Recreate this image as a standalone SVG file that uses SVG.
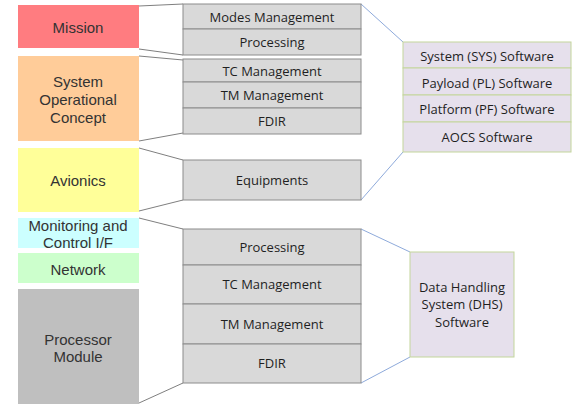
<svg xmlns="http://www.w3.org/2000/svg" width="572" height="404" viewBox="0 0 572 404">
<style>
.lt{font-family:"Liberation Sans",Arial,sans-serif;font-size:15px;fill:#333;text-anchor:middle;dominant-baseline:central}
.mt{font-family:"Open Sans","Noto Sans",sans-serif;font-size:13px;fill:#1f1f1f;text-anchor:middle;dominant-baseline:central}
.mid{fill:#D9D9D9;stroke:#8C8C8C;stroke-width:1}
.sw{fill:#E6E0EC;stroke:#C3D69B;stroke-width:1}
.gl{stroke:#7F7F7F;stroke-width:1;fill:none}
.bl{stroke:#8EAADB;stroke-width:1;fill:none}
</style>
<rect width="572" height="404" fill="#fff"/>
<g id="mission"><rect x="18" y="5" width="121" height="43" fill="#FF7C80"/><text class="lt" x="78" y="27">Mission</text></g>
<g id="soc"><rect x="18" y="56" width="121" height="85" fill="#FFCC99"/><text class="lt" x="78" y="81">System</text><text class="lt" x="78" y="99">Operational</text><text class="lt" x="78" y="117">Concept</text></g>
<g id="avionics"><rect x="18" y="148" width="121" height="64" fill="#FFFF99"/><text class="lt" x="78" y="180">Avionics</text></g>
<g id="monitoring"><rect x="18" y="218" width="121" height="30" fill="#CCFFFF"/><text class="lt" x="78" y="225">Monitoring and</text><text class="lt" x="78" y="242">Control I/F</text></g>
<g id="network"><rect x="18" y="253" width="121" height="30" fill="#CCFFCC"/><text class="lt" x="78" y="269">Network</text></g>
<g id="processor"><rect x="18" y="289" width="121" height="115" fill="#BFBFBF"/><text class="lt" x="78" y="339">Processor</text><text class="lt" x="78" y="356">Module</text></g>

<g id="connectors">
<path class="gl" d="M139 6 L183 4 M139 49 L183 55"/>
<path class="gl" d="M139 56 L183 60 M139 141 L183 133"/>
<path class="gl" d="M139 148 L183 160 M139 211 L183 200"/>
<path class="gl" d="M139 218 L183 229 M139 403 L183 383"/>
<path class="bl" d="M361 4 L403 42 M361 200 L403 152"/>
<path class="bl" d="M361 229 L410 252 M361 383 L410 357"/>
</g>

<g id="mid-mission">
<rect class="mid" x="183" y="4" width="178" height="25"/><text class="mt" x="272" y="17">Modes Management</text>
<rect class="mid" x="183" y="29" width="178" height="26"/><text class="mt" x="272" y="42">Processing</text>
</g>
<g id="mid-soc">
<rect class="mid" x="183" y="59" width="178" height="23"/><text class="mt" x="272" y="71">TC Management</text>
<rect class="mid" x="183" y="82" width="178" height="26"/><text class="mt" x="272" y="95">TM Management</text>
<rect class="mid" x="183" y="108" width="178" height="26"/><text class="mt" x="272" y="121">FDIR</text>
</g>
<g id="mid-avionics">
<rect class="mid" x="183" y="160" width="178" height="40"/><text class="mt" x="272" y="180">Equipments</text>
</g>
<g id="mid-processor">
<rect class="mid" x="183" y="229" width="178" height="36"/><text class="mt" x="272" y="247">Processing</text>
<rect class="mid" x="183" y="265" width="178" height="39"/><text class="mt" x="272" y="284">TC Management</text>
<rect class="mid" x="183" y="304" width="178" height="40"/><text class="mt" x="272" y="324">TM Management</text>
<rect class="mid" x="183" y="344" width="178" height="39"/><text class="mt" x="272" y="363">FDIR</text>
</g>
<g id="software">
<rect class="sw" x="403" y="42" width="168" height="26"/><text class="mt" x="487" y="56">System (SYS) Software</text>
<rect class="sw" x="403" y="68" width="168" height="27"/><text class="mt" x="487" y="83">Payload (PL) Software</text>
<rect class="sw" x="403" y="95" width="168" height="27"/><text class="mt" x="487" y="109">Platform (PF) Software</text>
<rect class="sw" x="403" y="122" width="168" height="30"/><text class="mt" x="487" y="137">AOCS Software</text>
</g>
<g id="dhs">
<rect class="sw" x="410" y="252" width="104" height="105"/>
<text class="mt" x="462" y="287">Data Handling</text>
<text class="mt" x="462" y="304">System (DHS)</text>
<text class="mt" x="462" y="322">Software</text>
</g>
</svg>
